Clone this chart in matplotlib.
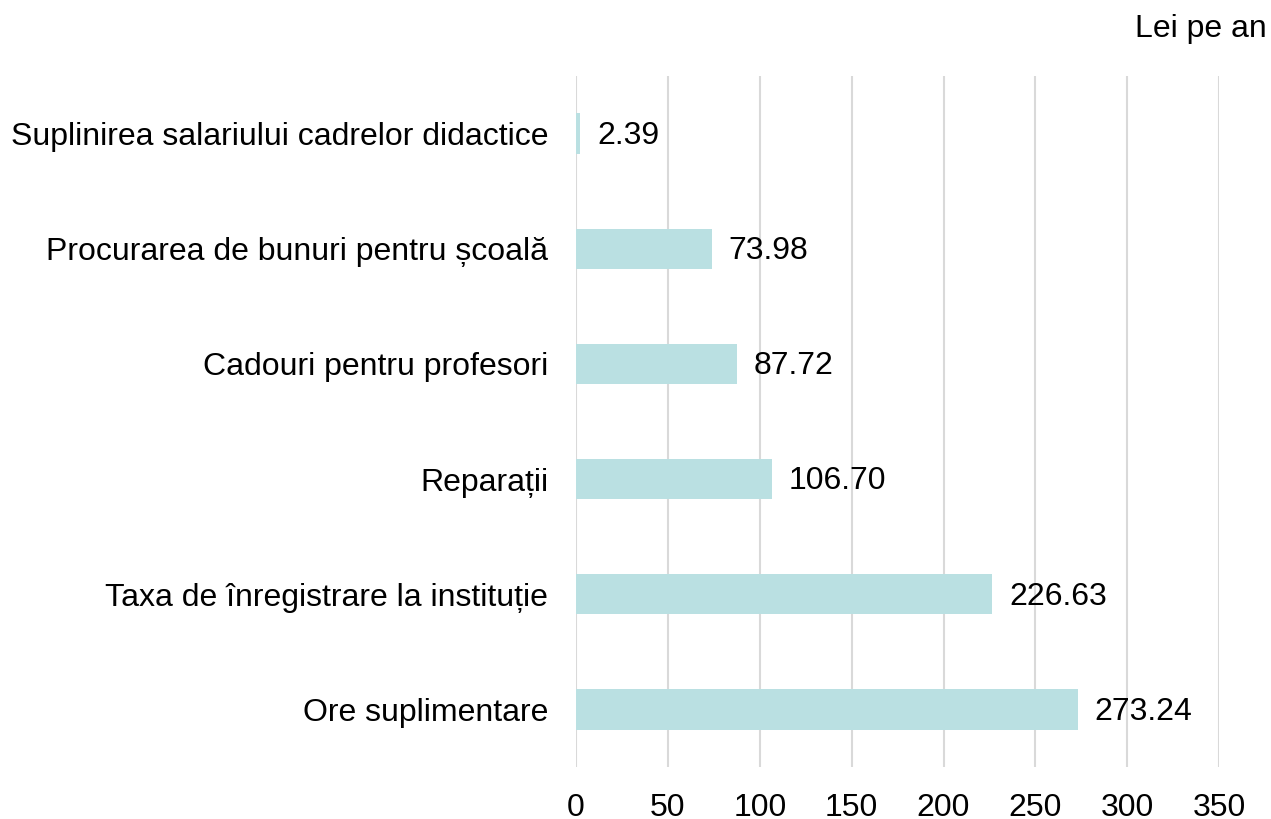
import matplotlib
matplotlib.use("Agg")
import matplotlib.pyplot as plt

categories = [
    "Suplinirea salariului cadrelor didactice",
    "Procurarea de bunuri pentru școală",
    "Cadouri pentru profesori",
    "Reparații",
    "Taxa de înregistrare la instituție",
    "Ore suplimentare",
]
values = [2.39, 73.98, 87.72, 106.70, 226.63, 273.24]
xticks = [0, 50, 100, 150, 200, 250, 300, 350]

plt.rcParams["font.family"] = ["Liberation Sans", "DejaVu Sans"]

fig = plt.figure(figsize=(12.71, 8.19), dpi=100)
ax = fig.add_axes([0.4532, 0.0635, 0.5060, 0.8437])

pos = list(range(len(categories)))[::-1]
bars = ax.barh(pos, values, height=0.35, color="#bae0e2", zorder=2)
for b, v in zip(bars, values):
    ax.text(b.get_width() + 9, b.get_y() + b.get_height() / 2 - 0.02, f"{v:.2f}",
            va="center", ha="left", fontsize=23, color="black")

ax.set_yticks(pos)
ax.set_yticklabels(categories, fontsize=23)
ax.set_xticks(xticks)
ax.set_xticklabels([str(t) for t in xticks], fontsize=23)
ax.set_xlim(0, 350)
ax.set_ylim(-0.5, 5.5)
ax.tick_params(axis="both", length=0)
ax.tick_params(axis="x", pad=19)
ax.tick_params(axis="y", pad=20)
ax.grid(axis="x", color="#d9d9d9", linewidth=1.5, zorder=0)
ax.set_axisbelow(True)
for s in ax.spines.values():
    s.set_visible(False)

fig.text(0.997, 0.965, "Lei pe an", ha="right", va="center", fontsize=23)

fig.savefig("out.png", dpi=100)
